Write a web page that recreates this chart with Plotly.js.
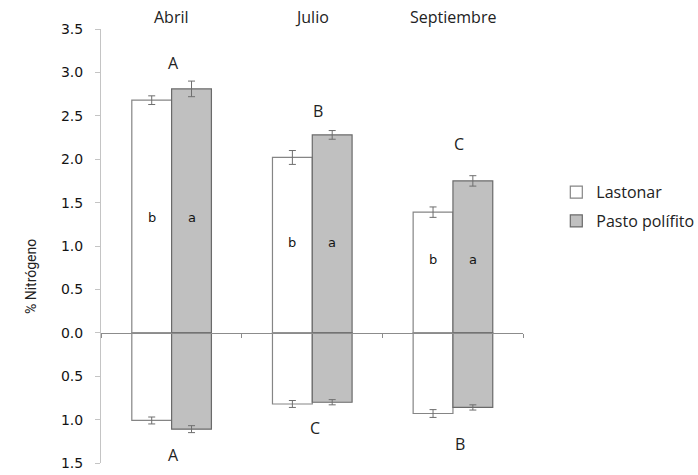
<!DOCTYPE html>
<html>
<head>
<meta charset="utf-8">
<script src="https://cdn.plot.ly/plotly-3.0.1.min.js"></script>
<style>
  html, body { margin: 0; padding: 0; background: #ffffff; }
  #chart { width: 698px; height: 475px; }
</style>
</head>
<body>
<div id="chart"></div>
<script>
// Sampling months
const months = ['Abril', 'Julio', 'Septiembre'];

// % nitrogen, upper panel (drawn upward)
const lastonarUp = [2.68, 2.02, 1.39];
const lastonarUpErr = [0.05, 0.08, 0.06];
const pastoUp = [2.81, 2.28, 1.75];
const pastoUpErr = [0.09, 0.05, 0.06];

// % nitrogen, lower panel (drawn downward)
const lastonarDown = [1.01, 0.82, 0.93];
const lastonarDownErr = [0.04, 0.04, 0.045];
const pastoDown = [1.11, 0.80, 0.86];
const pastoDownErr = [0.04, 0.03, 0.03];

// Significance letters
const monthLettersUp = ['A', 'B', 'C'];
const monthLettersDown = ['A', 'C', 'B'];
const lastonarLetters = ['b', 'b', 'b'];
const pastoLetters = ['a', 'a', 'a'];

// Axis tick values / labels (lower half labelled by magnitude)
const yTickVals = [3.5, 3.0, 2.5, 2.0, 1.5, 1.0, 0.5, 0.0, -0.5, -1.0, -1.5];
const yTickText = ['3.5', '3.0', '2.5', '2.0', '1.5', '1.0', '0.5', '0.0', '0.5', '1.0', '1.5'];

// ---- styling / layout constants ----
const BAR_W = 0.283;
const OFF_L = -0.281;
const OFF_P = 0.002;
const Y_MIN = -1.5, Y_MAX = 3.5;
const topLetterY = [3.11, 2.56, 2.18];
const topLetterShift = [2, 6, 6];
const bottomLetterY = [-1.41, -1.10, -1.28];
const bottomLetterShift = [2, 3, 7];
const innerLetterY = [1.33, 1.04, 0.84];

const neg = arr => arr.map(v => -v);
const idx = months.map((_, i) => i);

const lastonarStyle = {color: '#ffffff', line: {color: '#858585', width: 1.2}};
const pastoStyle = {color: '#c0c0c0', line: {color: '#6a6a6a', width: 1.2}};
const errStyle = (arr) => ({type: 'data', array: arr, visible: true, color: '#6e6e6e', thickness: 1, width: 3.5});

const traces = [
  {
    type: 'bar', name: 'Lastonar', legendgroup: 'L',
    x: idx, y: lastonarUp, width: BAR_W, offset: OFF_L,
    marker: lastonarStyle, error_y: errStyle(lastonarUpErr), hoverinfo: 'skip'
  },
  {
    type: 'bar', name: 'Pasto polífito', legendgroup: 'P',
    x: idx, y: pastoUp, width: BAR_W, offset: OFF_P,
    marker: pastoStyle, error_y: errStyle(pastoUpErr), hoverinfo: 'skip'
  },
  {
    type: 'bar', name: 'Lastonar', legendgroup: 'L', showlegend: false,
    x: idx, y: neg(lastonarDown), width: BAR_W, offset: OFF_L,
    marker: lastonarStyle, error_y: errStyle(lastonarDownErr), hoverinfo: 'skip'
  },
  {
    type: 'bar', name: 'Pasto polífito', legendgroup: 'P', showlegend: false,
    x: idx, y: neg(pastoDown), width: BAR_W, offset: OFF_P,
    marker: pastoStyle, error_y: errStyle(pastoDownErr), hoverinfo: 'skip'
  }
];

const textFont = {family: 'Open Sans, Noto Sans, sans-serif', size: 16, color: '#222222'};
const innerFont = {family: 'DejaVu Sans, sans-serif', size: 13, color: '#141414'};

const annotations = [];
months.forEach((m, i) => {
  // month names above the plot
  annotations.push({x: i, y: 1, xref: 'x', yref: 'paper', text: m,
    showarrow: false, font: textFont, yanchor: 'bottom', yshift: -1});
  annotations.push({x: i, y: topLetterY[i], xref: 'x', yref: 'y', text: monthLettersUp[i],
    showarrow: false, font: textFont, xshift: topLetterShift[i]});
  annotations.push({x: i, y: bottomLetterY[i], xref: 'x', yref: 'y', text: monthLettersDown[i],
    showarrow: false, font: textFont, xshift: bottomLetterShift[i]});
  annotations.push({x: i + OFF_L + BAR_W / 2, y: innerLetterY[i], xref: 'x', yref: 'y',
    text: lastonarLetters[i], showarrow: false, font: innerFont});
  annotations.push({x: i + OFF_P + BAR_W / 2, y: innerLetterY[i], xref: 'x', yref: 'y',
    text: pastoLetters[i], showarrow: false, font: innerFont});
});
// y-axis caption
annotations.push({x: -0.188, y: 0.43, xref: 'paper', yref: 'paper', text: '% Nitrógeno',
  textangle: -90, showarrow: false,
  font: {family: 'Liberation Sans Narrow, Roboto, sans-serif', size: 14, color: '#222222'}});

const layout = {
  width: 698, height: 475,
  margin: {l: 101, r: 175, t: 29, b: 12},
  paper_bgcolor: '#ffffff', plot_bgcolor: '#ffffff',
  barmode: 'overlay',
  showlegend: true,
  legend: {
    xref: 'container', yref: 'container',
    x: 0.797, y: 0.631, xanchor: 'left', yanchor: 'top',
    font: {family: 'Open Sans, Noto Sans, sans-serif', size: 16, color: '#222222'},
    traceorder: 'grouped', tracegroupgap: 5, bgcolor: 'rgba(0,0,0,0)'
  },
  xaxis: {
    type: 'linear', range: [-0.5, 2.5],
    anchor: 'free', position: (0 - Y_MIN) / (Y_MAX - Y_MIN),
    showline: true, linecolor: '#8c8c8c', linewidth: 1,
    ticks: 'outside', ticklen: 4, tickcolor: '#8c8c8c',
    tickvals: [-0.5, 0.5, 1.5, 2.5], showticklabels: false,
    showgrid: false, zeroline: false, fixedrange: true
  },
  yaxis: {
    range: [Y_MIN, Y_MAX],
    tickvals: yTickVals, ticktext: yTickText,
    showline: true, linecolor: '#c4c4c4', linewidth: 1,
    ticks: 'outside', ticklen: 5, tickcolor: '#c4c4c4',
    ticklabelstandoff: 9,
    tickfont: {family: 'DejaVu Sans, sans-serif', size: 14, color: '#141414'},
    showgrid: false, zeroline: false, fixedrange: true
  },
  annotations: annotations
};

Plotly.newPlot('chart', traces, layout, {displayModeBar: false, staticPlot: true});
</script>
</body>
</html>
